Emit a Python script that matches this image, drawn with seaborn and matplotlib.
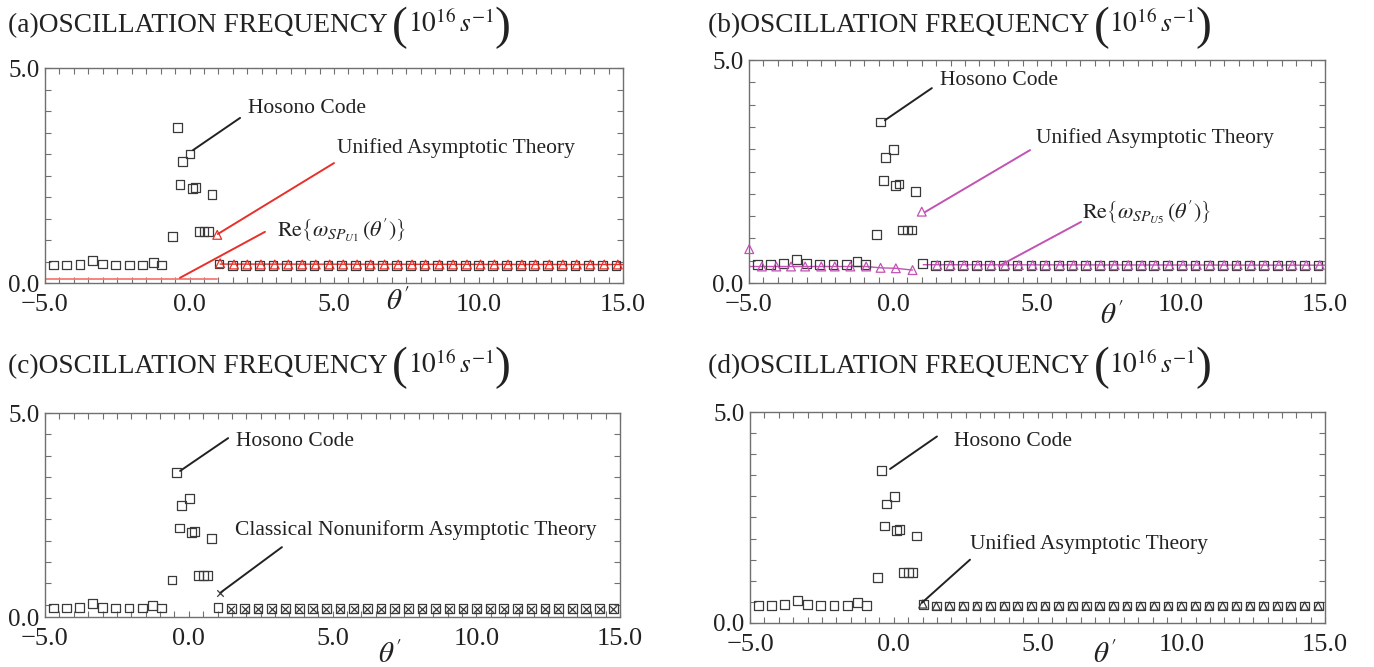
import matplotlib
matplotlib.use("Agg")
import matplotlib.pyplot as plt
import matplotlib.transforms as mtransforms
from matplotlib.text import Annotation
from matplotlib.ticker import MultipleLocator, FixedLocator, FuncFormatter
import seaborn as sns

# ---------------- data ----------------
# Hosono code samples (shared by all four panels)
hosono_theta = [-4.71, -4.25, -3.79, -3.36, -3.00, -2.55, -2.08, -1.62, -1.25, -0.96,
                -0.58, -0.42, -0.25, 0.02, -0.33, 0.10, 0.21, 0.78, 0.33, 0.50, 0.66,
                1.02, 1.48, 1.94, 2.41, 2.89, 3.36, 3.84, 4.31, 4.79, 5.26, 5.74, 6.21,
                6.69, 7.16, 7.64, 8.11, 8.59, 9.06, 9.54, 10.01, 10.49, 10.96, 11.44,
                11.91, 12.39, 12.86, 13.34, 13.81, 14.29, 14.76]
hosono_freq = [0.42, 0.42, 0.43, 0.53, 0.44, 0.42, 0.42, 0.42, 0.48, 0.42,
               1.08, 3.61, 2.82, 3.00, 2.30, 2.19, 2.22, 2.06, 1.19, 1.19, 1.19,
               0.44, 0.40, 0.40, 0.40, 0.40, 0.40, 0.40, 0.40, 0.40, 0.40, 0.40, 0.40,
               0.40, 0.40, 0.40, 0.40, 0.40, 0.40, 0.40, 0.40, 0.40, 0.40, 0.40,
               0.40, 0.40, 0.40, 0.40, 0.40, 0.40, 0.40]

# Panel (a): unified asymptotic theory, SP_U1
uat_a_theta = [0.96, 1.06, 1.54, 2.00, 2.47, 2.95, 3.42, 3.90, 4.37, 4.85, 5.32, 5.80,
               6.27, 6.75, 7.22, 7.70, 8.17, 8.65, 9.12, 9.60, 10.07, 10.55, 11.02,
               11.50, 11.97, 12.45, 12.92, 13.40, 13.87, 14.35, 14.82]
uat_a_freq = [1.12, 0.46, 0.43, 0.43, 0.43, 0.43, 0.43, 0.43, 0.43, 0.43, 0.43, 0.43,
              0.43, 0.43, 0.43, 0.43, 0.43, 0.43, 0.43, 0.43, 0.43, 0.43, 0.43,
              0.43, 0.43, 0.43, 0.43, 0.43, 0.43, 0.43, 0.43]
uat_a_line_theta = [1.06, 15.0]
uat_a_line_freq = [0.44, 0.43]
re_a_theta = [-5.0, 0.95]
re_a_freq = [0.10, 0.10]

# Panel (b): unified asymptotic theory, SP_U5
uat_b_theta = [-4.99, -4.55, -4.05, -3.54, -3.05, -2.49, -2.02, -1.48, -0.93, -0.43,
               0.10, 0.68, 1.00, 1.54, 2.00, 2.47, 2.95, 3.42, 3.90, 4.37, 4.85, 5.32,
               5.80, 6.27, 6.75, 7.22, 7.70, 8.17, 8.65, 9.12, 9.60, 10.07, 10.55,
               11.02, 11.50, 11.97, 12.45, 12.92, 13.40, 13.87, 14.35, 14.82]
uat_b_freq = [0.76, 0.37, 0.37, 0.37, 0.37, 0.37, 0.37, 0.37, 0.37, 0.34,
              0.33, 0.29, 1.60, 0.40, 0.40, 0.40, 0.40, 0.40, 0.40, 0.40, 0.40, 0.40,
              0.40, 0.40, 0.40, 0.40, 0.40, 0.40, 0.40, 0.40, 0.40, 0.40, 0.40,
              0.40, 0.40, 0.40, 0.40, 0.40, 0.40, 0.40, 0.40, 0.40]
re_b_left_theta = [-5.0, -4.55, -4.05, -3.54, -3.05, -2.49, -2.02, -1.48, -0.93, -0.43,
                   0.10, 0.68]
re_b_left_freq = [0.37, 0.37, 0.37, 0.37, 0.37, 0.37, 0.37, 0.37, 0.37, 0.34,
                  0.33, 0.29]
re_b_right_theta = [1.05, 15.0]
re_b_right_freq = [0.41, 0.40]

# Panel (c): classical nonuniform asymptotic theory
cnat_theta = [1.09, 1.48, 1.94, 2.41, 2.89, 3.36, 3.84, 4.31, 4.79, 5.26, 5.74, 6.21,
              6.69, 7.16, 7.64, 8.11, 8.59, 9.06, 9.54, 10.01, 10.49, 10.96, 11.44,
              11.91, 12.39, 12.86, 13.34, 13.81, 14.29, 14.76]
cnat_freq = [0.77, 0.40, 0.40, 0.40, 0.40, 0.40, 0.40, 0.40, 0.40, 0.40, 0.40, 0.40,
             0.40, 0.40, 0.40, 0.40, 0.40, 0.40, 0.40, 0.40, 0.40, 0.40, 0.40,
             0.40, 0.40, 0.40, 0.40, 0.40, 0.40, 0.40]

# Panel (d): unified asymptotic theory
uat_d_theta = [1.01, 1.48, 1.94, 2.41, 2.89, 3.36, 3.84, 4.31, 4.79, 5.26, 5.74, 6.21,
               6.69, 7.16, 7.64, 8.11, 8.59, 9.06, 9.54, 10.01, 10.49, 10.96, 11.44,
               11.91, 12.39, 12.86, 13.34, 13.81, 14.29, 14.76]
uat_d_freq = [0.45, 0.40, 0.40, 0.40, 0.40, 0.40, 0.40, 0.40, 0.40, 0.40, 0.40, 0.40,
              0.40, 0.40, 0.40, 0.40, 0.40, 0.40, 0.40, 0.40, 0.40, 0.40, 0.40,
              0.40, 0.40, 0.40, 0.40, 0.40, 0.40, 0.40]

x_major = [-5.0, 0.0, 5.0, 10.0, 15.0]
panel_letters = ["a", "b", "c", "d"]

# ---------------- style ----------------
sns.set_style("ticks")
plt.rcParams["font.family"] = ["Liberation Serif", "DejaVu Serif"]
plt.rcParams["mathtext.fontset"] = "stix"

RED = "#e8302a"
RED_LIGHT = "#f47a74"
MAGENTA = "#c252b4"
INK = "#3a3a3a"
TEXT = "#222222"
SPINE = "#707070"
XTICK_SIZE = 19
YTICK_SIZE = 18

fig = plt.figure(figsize=(13.74, 6.67), dpi=100)

rects = {
    "a": [0.03275, 0.5757, 0.4207, 0.3223],
    "b": [0.5451, 0.5757, 0.4192, 0.3343],
    "c": [0.03275, 0.0750, 0.4185, 0.3058],
    "d": [0.5459, 0.0660, 0.4185, 0.3163],
}
axes = {k: fig.add_axes(r) for k, r in rects.items()}


def fmt_num(v, _pos=None):
    return f"{v:.1f}".replace("-", "\u2212")


def style_axes(ax, ybottom=0.0, label_zero=True):
    ax.set_xlim(-5.0, 15.0)
    ax.set_ylim(ybottom, 5.0)
    ax.xaxis.set_major_locator(FixedLocator(x_major))
    ax.xaxis.set_minor_locator(MultipleLocator(0.5))
    ax.xaxis.set_major_formatter(FuncFormatter(fmt_num))
    ax.yaxis.set_major_locator(FixedLocator([0.0, 5.0] if label_zero else [5.0]))
    ax.yaxis.set_minor_locator(MultipleLocator(0.5))
    ax.yaxis.set_major_formatter(FuncFormatter(fmt_num))
    ax.tick_params(which="both", direction="in", top=True, right=True,
                   length=4, width=0.8, color=SPINE)
    ax.tick_params(axis="x", which="major", labelsize=XTICK_SIZE, labelcolor=TEXT, pad=8)
    ax.tick_params(axis="y", which="major", labelsize=YTICK_SIZE, labelcolor=TEXT, pad=4)
    for sp in ax.spines.values():
        sp.set_color(SPINE)
        sp.set_linewidth(1.0)
        sp.set_visible(True)
    ax.set_xlabel("")
    ax.set_ylabel("")
    if not label_zero:
        # zero label sits just under the cropped lower limit
        trans = mtransforms.blended_transform_factory(ax.transAxes, ax.transData)
        ax.text(-0.01, 0.15, "0.0", transform=trans, ha="right", va="center",
                fontsize=YTICK_SIZE, color=TEXT, clip_on=False)


def open_markers(ax, x, y, marker, size, color, lw=0.9, z=3):
    sns.scatterplot(x=x, y=y, marker=marker, s=size, color=color, linewidth=lw,
                    legend=False, ax=ax, zorder=z)
    coll = ax.collections[-1]
    if marker not in ("x", "+"):
        coll.set_facecolor("none")
    coll.set_edgecolor(color)
    coll.set_clip_on(False)


def line(ax, x, y, color, lw=1.2):
    sns.lineplot(x=x, y=y, color=color, linewidth=lw, estimator=None, sort=False,
                 legend=False, ax=ax, zorder=2)


def leader(ax, start, end, color, lw=1.4):
    ax.annotate("", xy=end, xytext=start,
                arrowprops=dict(arrowstyle="-", color=color, lw=lw,
                                shrinkA=0, shrinkB=0))


def label(ax, x, y, s, size=15.5):
    ax.text(x, y, s, ha="left", va="center", fontsize=size, color=TEXT)


# ---------------- panel (a) ----------------
ax = axes["a"]
line(ax, re_a_theta, re_a_freq, RED_LIGHT, lw=1.3)
line(ax, uat_a_line_theta, uat_a_line_freq, RED, lw=1.0)
open_markers(ax, hosono_theta, hosono_freq, "s", 40, INK)
open_markers(ax, uat_a_theta, uat_a_freq, "^", 40, RED)
style_axes(ax)
leader(ax, (0.12, 3.09), (1.75, 3.84), TEXT)
label(ax, 2.02, 4.07, "Hosono Code")
leader(ax, (0.98, 1.14), (5.0, 2.79), RED)
label(ax, 5.10, 3.14, "Unified Asymptotic Theory")
leader(ax, (-0.33, 0.12), (2.61, 1.19), RED)
label(ax, 3.03, 1.23, r"$\mathrm{Re}\left\{\omega_{SP_{U1}}\,\left(\theta'\right)\right\}$", 16)

# ---------------- panel (b) ----------------
ax = axes["b"]
line(ax, re_b_left_theta, re_b_left_freq, MAGENTA, lw=1.0)
line(ax, re_b_right_theta, re_b_right_freq, MAGENTA, lw=1.0)
open_markers(ax, hosono_theta, hosono_freq, "s", 40, INK)
open_markers(ax, uat_b_theta, uat_b_freq, "^", 40, MAGENTA)
style_axes(ax)
leader(ax, (-0.28, 3.65), (1.35, 4.37), TEXT)
label(ax, 1.63, 4.55, "Hosono Code")
leader(ax, (1.11, 1.59), (4.76, 2.98), MAGENTA)
label(ax, 4.97, 3.25, "Unified Asymptotic Theory")
leader(ax, (3.68, 0.38), (6.53, 1.37), MAGENTA)
label(ax, 6.56, 1.59, r"$\mathrm{Re}\left\{\omega_{SP_{U5}}\,\left(\theta'\right)\right\}$", 16)

# ---------------- panel (c) ----------------
ax = axes["c"]
open_markers(ax, hosono_theta, hosono_freq, "s", 40, INK)
open_markers(ax, cnat_theta, cnat_freq, "x", 22, INK, lw=0.9)
style_axes(ax, ybottom=0.21, label_zero=False)
leader(ax, (-0.30, 3.64), (1.37, 4.41), TEXT)
label(ax, 1.64, 4.34, "Hosono Code")
leader(ax, (1.12, 0.79), (3.24, 1.85), TEXT)
label(ax, 1.61, 2.25, "Classical Nonuniform Asymptotic Theory")

# ---------------- panel (d) ----------------
ax = axes["d"]
open_markers(ax, hosono_theta, hosono_freq, "s", 40, INK)
open_markers(ax, uat_d_theta, uat_d_freq, "^", 34, INK)
style_axes(ax)
leader(ax, (-0.13, 3.65), (1.50, 4.42), TEXT)
label(ax, 2.10, 4.30, "Hosono Code")
leader(ax, (0.98, 0.48), (2.65, 1.50), TEXT)
label(ax, 2.65, 1.86, "Unified Asymptotic Theory")


# ---------------- titles and axis labels ----------------
def chain(prev, s, size, dx=0.0, dy=0.0):
    """Place a text piece right after the previous one."""
    t = Annotation(s, xy=(1.0, 0.5), xycoords=prev, xytext=(dx, dy),
                   textcoords="offset points", ha="left", va="center",
                   fontsize=size, color=TEXT)
    fig.add_artist(t)
    return t


title_pos = {"a": (0.0058, 0.961), "b": (0.5153, 0.961),
             "c": (0.0058, 0.451), "d": (0.5153, 0.451)}
TITLE_SIZE = 19.7
for k in panel_letters:
    x, y = title_pos[k]
    head = fig.text(x, y, f"({k})OSCILLATION FREQUENCY", ha="left", va="center",
                    fontsize=TITLE_SIZE, color=TEXT)
    p1 = chain(head, "(", 34, dx=3, dy=-1)
    unit = chain(p1, r"$10^{16}\,s^{-1}$", TITLE_SIZE, dx=0, dy=2)
    chain(unit, ")", 34, dx=0, dy=-2)

xlabel_pos = {"a": (0.2897, 0.547), "b": (0.8093, 0.526),
              "c": (0.2838, 0.018), "d": (0.8042, 0.018)}
for k in panel_letters:
    x, y = xlabel_pos[k]
    fig.text(x, y, r"$\theta'$", ha="center", va="center", fontsize=21, color=TEXT)

fig.savefig("out.png", dpi=100, facecolor="white")
